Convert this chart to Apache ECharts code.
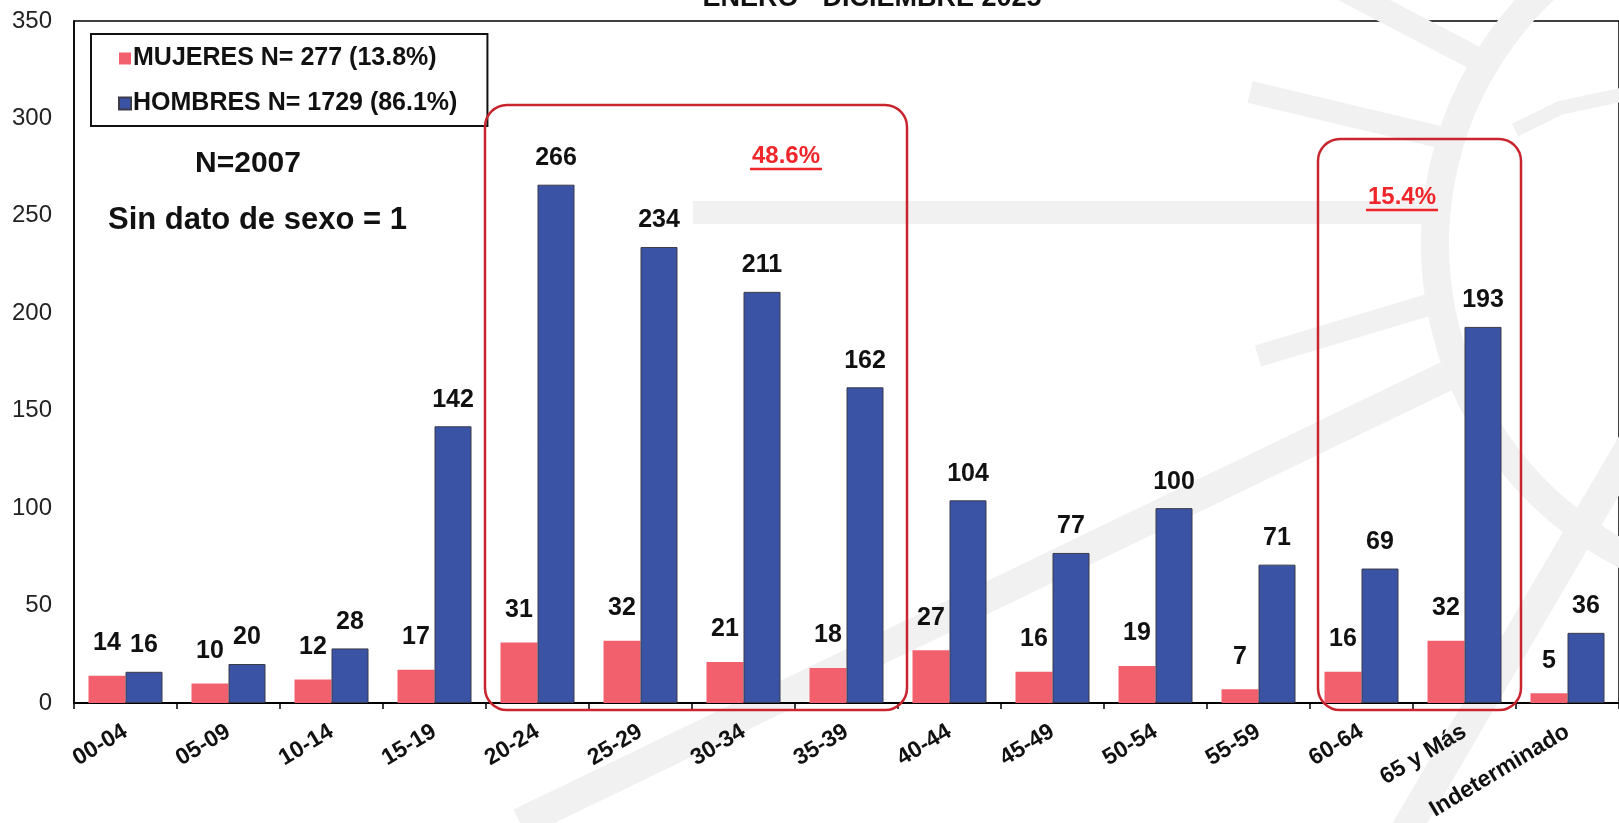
<!DOCTYPE html>
<html>
<head>
<meta charset="utf-8">
<title>Casos por grupo de edad y sexo</title>
<script src="https://cdn.jsdelivr.net/npm/echarts@6/dist/echarts.min.js"></script>
<style>
  html, body { margin: 0; padding: 0; background: #fff; }
  #chart { width: 1619px; height: 823px; }
</style>
</head>
<body>
<div id="chart"></div>
<script>
// grupos de edad
const ageGroups = ['00-04', '05-09', '10-14', '15-19', '20-24', '25-29', '30-34', '35-39',
  '40-44', '45-49', '50-54', '55-59', '60-64', '65 y Más', 'Indeterminado'];
const mujeres = [14, 10, 12, 17, 31, 32, 21, 18, 27, 16, 19, 7, 16, 32, 5];
const hombres = [16, 20, 28, 142, 266, 234, 211, 162, 104, 77, 100, 71, 69, 193, 36];
const yTicks = [0, 50, 100, 150, 200, 250, 300, 350];
const seriesNames = ['MUJERES N= 277 (13.8%)', 'HOMBRES N= 1729 (86.1%)'];

const FONT = '"Liberation Sans", Arial, sans-serif';
const marca = '#f1f1f1';   // marca de agua de fondo
const rojo = '#c9252f';

let chartDom = document.getElementById('chart');
let myChart = echarts.init(chartDom);

// fondo (marca de agua gris claro)
let fondo = [
  { type: 'rect', shape: { x: 693, y: 201, width: 735, height: 23 }, style: { fill: marca } },
  { type: 'arc', shape: { cx: 1785, cy: 244, r: 350, startAngle: 100 * Math.PI / 180, endAngle: 242 * Math.PI / 180, clockwise: true },
    style: { stroke: marca, lineWidth: 28, fill: 'none' } },
  { type: 'line', shape: { x1: 1250, y1: 92, x2: 1452, y2: 140 }, style: { stroke: marca, lineWidth: 22 } },
  { type: 'line', shape: { x1: 1258, y1: 356, x2: 1445, y2: 300 }, style: { stroke: marca, lineWidth: 22 } },
  { type: 'line', shape: { x1: 520, y1: 823, x2: 1455, y2: 372 }, style: { stroke: marca, lineWidth: 30 } },
  { type: 'line', shape: { x1: 1640, y1: 430, x2: 1400, y2: 840 }, style: { stroke: marca, lineWidth: 30 } },
  { type: 'line', shape: { x1: 1345, y1: -10, x2: 1475, y2: 58 }, style: { stroke: marca, lineWidth: 24 } },
  { type: 'polyline', shape: { points: [[1515, 130], [1560, 108], [1625, 94]] }, style: { stroke: marca, lineWidth: 14, fill: 'none' } }
].map(function (el) { el.z = 0; el.silent = true; return el; });

let anotaciones = [
  // titulo cortado arriba
  { type: 'text', style: { text: 'ENERO - DICIEMBRE 2025', x: 872, y: 12, textAlign: 'center', textVerticalAlign: 'bottom',
      fill: '#111', font: 'bold 27px ' + FONT } },
  { type: 'text', style: { text: 'N=2007', x: 248, y: 164, textAlign: 'center', textVerticalAlign: 'middle',
      fill: '#111', font: 'bold 30px ' + FONT } },
  { type: 'text', style: { text: 'Sin dato de sexo = 1', x: 108, y: 220, textAlign: 'left', textVerticalAlign: 'middle',
      fill: '#111', font: 'bold 31px ' + FONT } },
  // recuadros rojos
  { type: 'rect', shape: { x: 485, y: 105, width: 422, height: 605, r: 22 }, style: { fill: 'none', stroke: rojo, lineWidth: 2.5 } },
  { type: 'rect', shape: { x: 1318, y: 139, width: 203, height: 571, r: 22 }, style: { fill: 'none', stroke: rojo, lineWidth: 2.5 } },
  { type: 'text', style: { text: '48.6%', x: 786, y: 156, textAlign: 'center', textVerticalAlign: 'middle',
      fill: '#f0262b', font: 'bold 24px ' + FONT } },
  { type: 'line', shape: { x1: 750, y1: 169, x2: 822, y2: 169 }, style: { stroke: '#f0262b', lineWidth: 2.5 } },
  { type: 'text', style: { text: '15.4%', x: 1402, y: 197, textAlign: 'center', textVerticalAlign: 'middle',
      fill: '#f0262b', font: 'bold 24px ' + FONT } },
  { type: 'line', shape: { x1: 1366, y1: 210, x2: 1438, y2: 210 }, style: { stroke: '#f0262b', lineWidth: 2.5 } }
].map(function (el) { el.z = 10; el.silent = true; return el; });

let option = {
  animation: false,
  backgroundColor: '#fff',
  textStyle: { fontFamily: FONT },
  grid: {
    left: 74,
    top: 21,
    width: 1555,
    height: 682,
    show: true,
    borderColor: '#000',
    borderWidth: 1.5,
    containLabel: false
  },
  legend: {
    orient: 'vertical',
    left: 91,
    top: 34,
    padding: [12, 30, 10, 27],
    itemGap: 20,
    itemWidth: 12,
    itemHeight: 12,
    icon: 'rect',
    borderColor: '#111',
    borderWidth: 2,
    backgroundColor: '#fff',
    textStyle: { fontSize: 25, fontWeight: 'bold', color: '#111', fontFamily: FONT, padding: [0, 0, 0, -3] },
    z: 8
  },
  xAxis: {
    type: 'category',
    data: ageGroups,
    axisLine: { lineStyle: { color: '#000', width: 2 } },
    axisTick: { show: true, length: 6, lineStyle: { color: '#000', width: 1.5 } },
    axisLabel: {
      rotate: 31,
      interval: 0,
      margin: 27,
      fontSize: 23,
      fontWeight: 'bold',
      color: '#111',
      fontFamily: FONT
    },
    splitLine: { show: false }
  },
  yAxis: {
    type: 'value',
    min: yTicks[0],
    max: yTicks[yTicks.length - 1],
    interval: 50,
    axisLine: { show: true, lineStyle: { color: '#000', width: 1.5 } },
    axisTick: { show: false },
    axisLabel: { fontSize: 24, color: '#222', margin: 22, fontFamily: FONT },
    splitLine: { show: false }
  },
  series: [
    {
      name: seriesNames[0],
      type: 'bar',
      data: mujeres,
      barWidth: 37,
      barGap: '0%',
      itemStyle: { color: '#f2606d' },
      label: {
        show: true,
        position: 'top',
        distance: 20,
        fontSize: 25,
        fontWeight: 'bold',
        color: '#111',
        fontFamily: FONT
      }
    },
    {
      name: seriesNames[1],
      type: 'bar',
      data: hombres,
      barWidth: 37,
      itemStyle: { color: '#3a53a4', borderColor: '#3b3b4a', borderWidth: 1 },
      label: {
        show: true,
        position: 'top',
        distance: 14,
        fontSize: 25,
        fontWeight: 'bold',
        color: '#111',
        fontFamily: FONT
      }
    }
  ],
  graphic: fondo.concat(anotaciones)
};

myChart.setOption(option);

window.addEventListener('resize', () => {
  myChart.resize();
});
</script>
</body>
</html>
